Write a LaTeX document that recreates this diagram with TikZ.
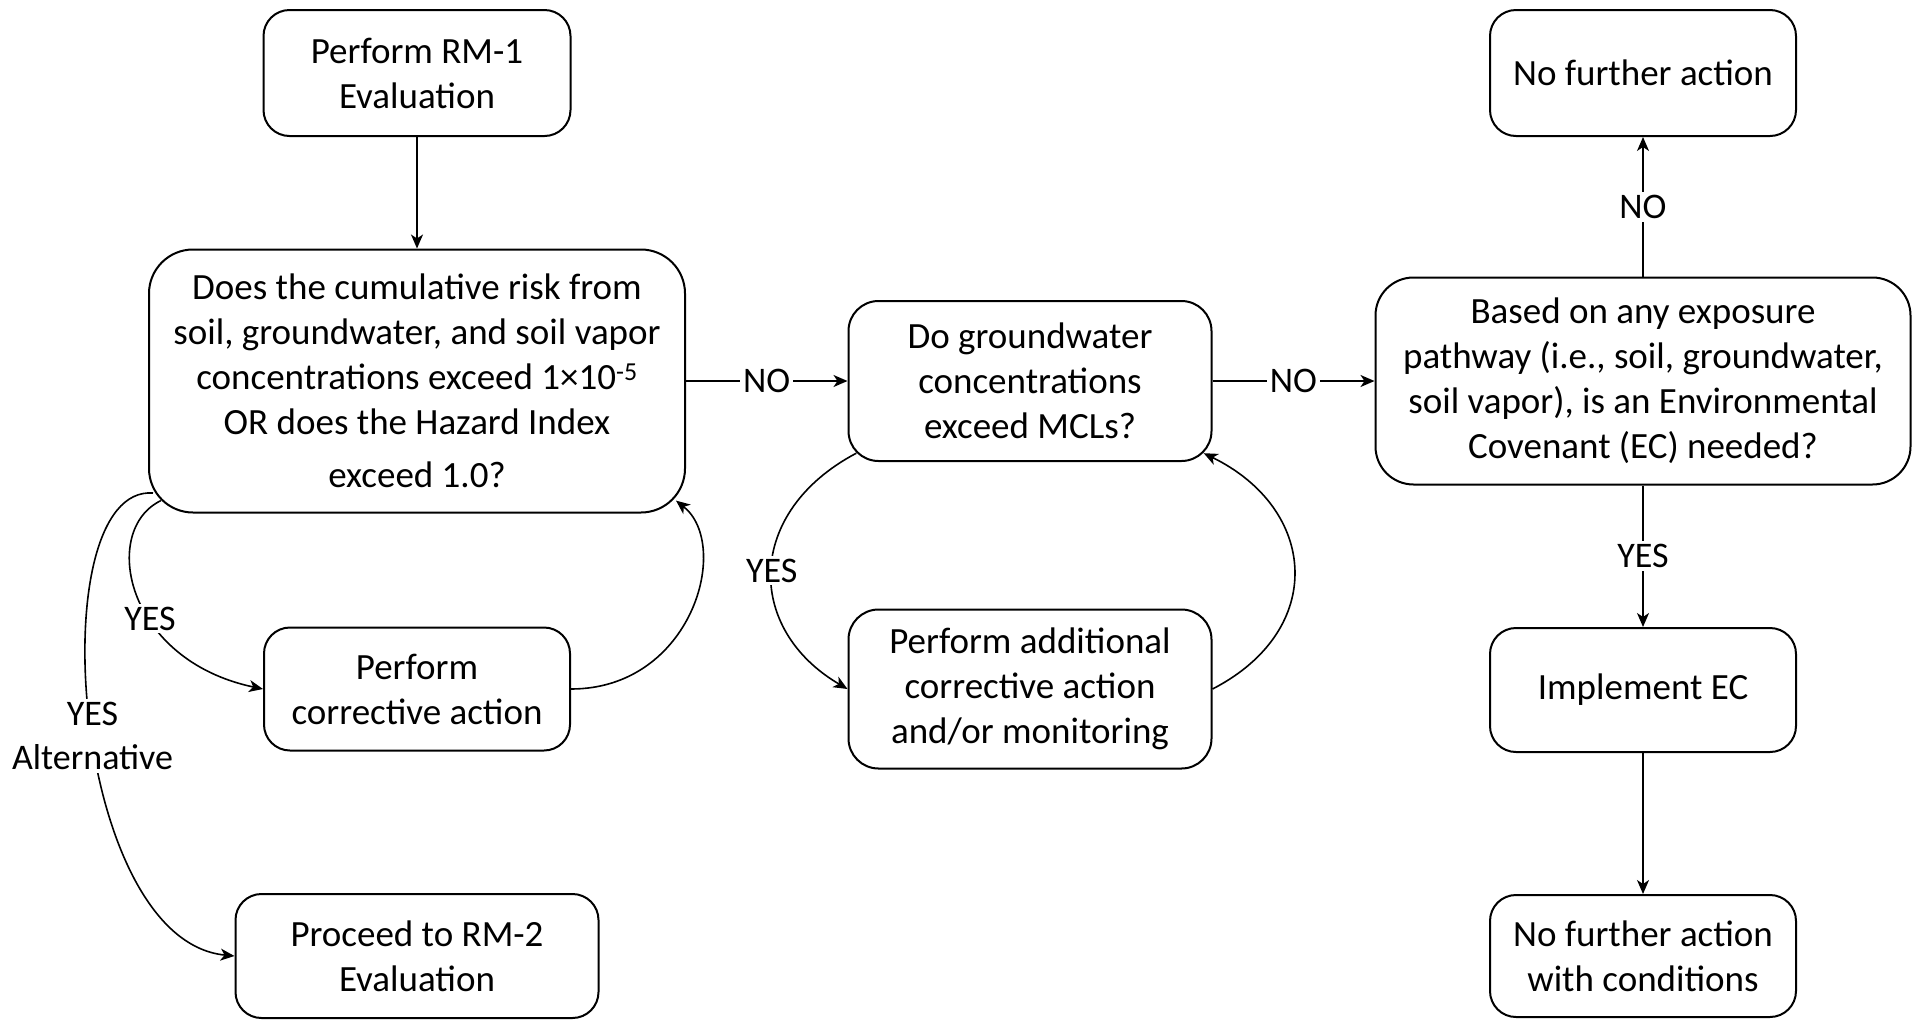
\documentclass[tikz,border=0pt]{standalone}
\usepackage{fontspec}
\setmainfont{Carlito}
\usetikzlibrary{arrows.meta,calc}
\begin{document}
\begin{tikzpicture}[x=1pt,y=-1pt,
  box/.style={draw, line width=2pt, rounded corners=#1, align=center, inner sep=0pt, font=\fontsize{37}{45}\selectfont},
  box/.default=26pt,
  conn/.style={line width=1.6pt, -{Stealth[length=14pt,width=12pt,inset=4pt]}},
  lbl/.style={fill=white, inner sep=3pt, font=\fontsize{36}{44}\selectfont, align=center}
]
\useasboundingbox (0,0) rectangle (1920,1021);

\node[box, minimum width=307pt, minimum height=126pt] (A) at (417,73) {Perform RM-1\\Evaluation};
\node[box=44pt, minimum width=536pt, minimum height=263pt] (B) at (417,381) {Does the cumulative risk from\\soil, groundwater, and soil vapor\\concentrations exceed 1×10\textsuperscript{-5}\\OR does the Hazard Index\\[8pt]exceed 1.0?};
\node[box, minimum width=306pt, minimum height=123pt] (I) at (417,689) {Perform\\corrective action};
\node[box, minimum width=363pt, minimum height=124pt] (J) at (417,956) {Proceed to RM-2\\Evaluation};
\node[box=30pt, minimum width=363pt, minimum height=160pt] (C) at (1030,381) {Do groundwater\\concentrations\\exceed MCLs?};
\node[box=30pt, minimum width=363pt, minimum height=159pt] (D) at (1030,689) {Perform additional\\corrective action\\and/or monitoring};
\node[box=38pt, minimum width=535pt, minimum height=207pt] (E) at (1643,381) {Based on any exposure\\pathway (i.e., soil, groundwater,\\soil vapor), is an Environmental\\Covenant (EC) needed?};
\node[box, minimum width=306pt, minimum height=126pt] (F) at (1643,73) {No further action};
\node[box, minimum width=306pt, minimum height=124pt] (G) at (1643,690) {Implement EC};
\node[box, minimum width=306pt, minimum height=122pt] (H) at (1643,956) {No further action\\with conditions};

\coordinate (b1) at ($(B.south west)+(12.9,-12.9)$);
\coordinate (b2) at ($(B.south west)+(5,-20.5)$);
\coordinate (b3) at ($(B.south east)+(-10,-12.9)$);
\coordinate (c1) at ($(C.south west)+(8.8,-8.8)$);
\coordinate (c2) at ($(C.south east)+(-8.8,-8.8)$);

\draw[conn] (A) -- (B);
\draw[conn] (B.east) -- node[lbl]{NO} (C.west);
\draw[conn] (C.east) -- node[lbl]{NO} (E.west);
\draw[conn] (E) -- node[lbl]{NO} (F);
\draw[conn] (E) -- node[lbl]{YES} (G);
\draw[conn] (G) -- (H);

\draw[conn] (b1) .. controls (100,530) and (125,660) .. (I.west) node[lbl,pos=0.6]{YES};
\draw[conn] (b2) .. controls (40,485) and (70,940) .. (J.west) node[lbl,pos=0.53]{YES\\Alternative};
\draw[conn] (I.east) .. controls (692,689) and (732,545) .. (b3);
\draw[conn] (c1) .. controls (745,512) and (745,629) .. (D.west) node[lbl,pos=0.5]{YES};
\draw[conn] (D.east) .. controls (1327,630) and (1318,509) .. (c2);
\end{tikzpicture}
\end{document}
